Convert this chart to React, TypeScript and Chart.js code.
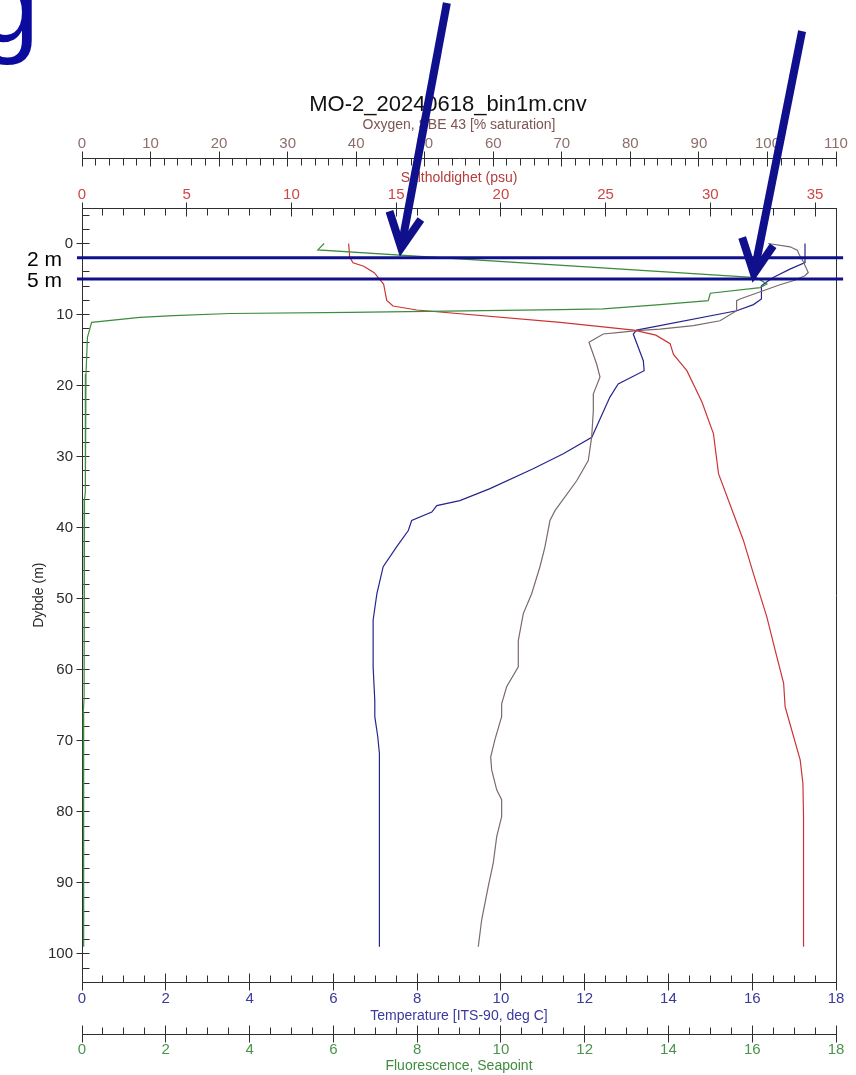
import React, { useEffect, useRef } from 'react';
import { Chart, registerables } from 'chart.js';

Chart.register(...registerables);

const FONT = "'Liberation Sans', Arial, Helvetica, sans-serif";

// ---------- axis tick labels ----------
const depthTicks = [0, 10, 20, 30, 40, 50, 60, 70, 80, 90, 100];
const oxygenTicks = [0, 10, 20, 30, 40, 50, 60, 70, 80, 90, 100, 110];
const salinityTicks = [0, 5, 10, 15, 20, 25, 30, 35];
const temperatureTicks = [0, 2, 4, 6, 8, 10, 12, 14, 16, 18];
const fluorescenceTicks = [0, 2, 4, 6, 8, 10, 12, 14, 16, 18];

// ---------- profiles (depth in m) ----------
const fluorescenceDepth = [0.0, 0.9, 4.8, 5.7, 6.2, 7.0, 8.05, 8.6, 9.2, 9.3, 9.7, 9.85, 10.15, 10.4, 11.1, 13.2, 18.4, 22.1, 35, 36, 64, 66, 99];
const fluorescenceValue = [5.78, 5.63, 16.1, 16.35, 16.19, 15.0, 14.95, 13.8, 12.44, 11.41, 6.4, 3.53, 2.18, 1.38, 0.23, 0.13, 0.095, 0.08, 0.08, 0.06, 0.05, 0.03, 0.04];

const salinityDepth = [0, 1.9, 2.7, 3.2, 4.1, 5.7, 8.0, 8.8, 9.36, 11.1, 12.2, 12.9, 14.1, 15.6, 17.9, 22.3, 26.8, 32.4, 38.0, 41.8, 46.5, 52.6, 57.3, 61.9, 65.2, 67.6, 72.7, 76.0, 80.7, 99];
const salinityValue = [12.73, 12.78, 12.94, 13.45, 13.95, 14.4, 14.55, 14.85, 15.98, 22.83, 26.35, 27.4, 28.08, 28.24, 28.88, 29.6, 30.15, 30.39, 31.1, 31.58, 32.06, 32.7, 33.1, 33.5, 33.57, 33.8, 34.29, 34.42, 34.45, 34.45];

const temperatureDepth = [0, 2.67, 3.6, 4.78, 5.6, 5.95, 7.8, 8.6, 9.46, 12.18, 12.74, 16.5, 17.9, 19.77, 21.65, 27.27, 29.6, 31.7, 34.5, 36.2, 36.9, 37.8, 39.0, 40.4, 42.7, 45.5, 49.3, 53.0, 59.6, 64.4, 66.6, 69.4, 71.8, 99];
const temperatureValue = [17.26, 17.26, 16.9, 16.5, 16.3, 16.22, 16.22, 16.03, 15.63, 13.24, 13.16, 13.4, 13.42, 12.8, 12.6, 12.17, 11.49, 10.77, 9.74, 9.02, 8.47, 8.35, 7.87, 7.79, 7.51, 7.19, 7.04, 6.95, 6.95, 6.99, 6.99, 7.06, 7.1, 7.1];

const oxygenDepth = [0, 0.46, 0.93, 1.59, 2.53, 4.08, 4.54, 5.24, 5.8, 7.8, 8.05, 9.46, 10.87, 11.57, 12.04, 12.27, 12.5, 12.74, 13.9, 16.96, 18.8, 21.2, 23.5, 27.3, 30.55, 33.4, 37.6, 39.0, 42.7, 45.5, 49.3, 52.1, 55.9, 59.6, 62.4, 64.8, 66.6, 69.8, 72.3, 74.1, 76.9, 78.3, 80.7, 83.5, 87.2, 90.5, 95.2, 99];
const oxygenValue = [100.1, 103.3, 104.35, 104.64, 105.22, 105.95, 105.47, 103.76, 101.82, 96.0, 95.5, 95.5, 93.07, 89.18, 84.32, 80.92, 78.48, 76.05, 73.96, 75.08, 75.57, 74.59, 74.6, 74.35, 73.86, 72.17, 69.0, 68.27, 67.54, 66.81, 65.6, 64.38, 63.65, 63.65, 61.95, 61.22, 61.22, 60.25, 59.62, 59.77, 60.5, 61.22, 61.22, 60.5, 60.0, 59.27, 58.31, 57.81];

// ---------- hand-drawn annotations (temperature units, depth) ----------
const markerDepths = [2, 5];
const markerLabels = ['2 m', '5 m'];
const markerSpanT = [-0.12, 18.17];
const arrowLeftShaftT = [8.71, 7.62];
const arrowLeftShaftD = [-33.85, 0.6];
const arrowLeftHeadT = [7.34, 7.62, 8.09];
const arrowLeftHeadD = [-4.54, 0.6, -3.37];
const arrowRightShaftT = [17.19, 16.04];
const arrowRightShaftD = [-29.9, 4.26];
const arrowRightHeadT = [15.76, 16.04, 16.5];
const arrowRightHeadD = [-0.84, 4.26, 0.32];

const zip = (xs: number[], ys: number[]) => xs.map((x, i) => ({ x, y: ys[i] }));

const AXIS = '#2e2e2e';
const NAVY = '#10108c';

const alignPx = (p: number) => Math.round(p - 0.5) + 0.5;

function hTicks(ctx: CanvasRenderingContext2D, scale: any, lineY: number, min: number, max: number, step: number, majorEvery: number, minUp: number, minDown: number, majUp: number, majDown: number) {
  const n = Math.round((max - min) / step);
  for (let i = 0; i <= n; i++) {
    const v = min + i * step;
    const px = alignPx(scale.getPixelForValue(v));
    const major = i % majorEvery === 0;
    ctx.moveTo(px, lineY - (major ? majUp : minUp));
    ctx.lineTo(px, lineY + (major ? majDown : minDown));
  }
}

const tickPlugin = {
  id: 'ctdTicks',
  afterLayout(chart: any) {
    // the original title sits slightly left of the plot centre
    const t = chart.titleBlock;
    if (t) {
      t.left = 60;
      t.right = chart.chartArea.right;
      t.width = t.right - t.left;
    }
  },
  beforeDatasetsDraw(chart: any) {
    const ctx: CanvasRenderingContext2D = chart.ctx;
    const { left, right, top, bottom } = chart.chartArea;
    const s = chart.scales;
    ctx.save();
    ctx.strokeStyle = AXIS;
    ctx.lineWidth = 1;
    ctx.beginPath();
    const rx = alignPx(right);
    ctx.moveTo(rx, alignPx(top));
    ctx.lineTo(rx, alignPx(bottom));
    // depth axis
    const lx = alignPx(left);
    for (let v = -4; v <= 104; v += 2) {
      const py = alignPx(s.y.getPixelForValue(v));
      const major = v % 10 === 0;
      ctx.moveTo(lx - (major ? 6 : 0), py);
      ctx.lineTo(lx + 7, py);
    }
    hTicks(ctx, s.xS, alignPx(top), 0, 36, 1, 5, 0, 7, 6, 8);
    hTicks(ctx, s.xO, alignPx(s.xO.bottom), 0, 110, 2, 5, 0, 7, 7, 8);
    hTicks(ctx, s.xT, alignPx(bottom), 0, 18, 0.5, 4, 7, 0, 9, 8);
    hTicks(ctx, s.xF, alignPx(s.xF.top), 0, 18, 0.5, 4, 7, 0, 9, 8);
    ctx.stroke();
    ctx.restore();
  },
};

function xAxis(opts: any) {
  return {
    type: 'linear',
    axis: 'x',
    position: opts.position,
    weight: opts.weight,
    min: opts.min,
    max: opts.max,
    afterFit: (sc: any) => { sc.height = opts.height; },
    afterBuildTicks: (sc: any) => { sc.ticks = opts.ticks.map((v: number) => ({ value: v })); },
    grid: { display: false, drawTicks: false },
    border: { display: true, color: AXIS, width: 1 },
    ticks: { color: opts.tickColor, font: { family: FONT, size: 15 }, padding: opts.tickPad, autoSkip: false, maxRotation: 0 },
    title: { display: true, text: opts.title, color: opts.titleColor, font: { family: FONT, size: 14 }, padding: opts.titlePad },
  };
}

export default function App() {
  const ref = useRef<HTMLCanvasElement>(null);

  useEffect(() => {
    document.body.style.margin = '0';
    const line = (label: string, data: any[], axis: string, color: string, width = 1.2, order = 1) => ({
      label, data, xAxisID: axis, yAxisID: 'y', showLine: true, borderColor: color, backgroundColor: color,
      borderWidth: width, pointRadius: 0, fill: false, tension: 0, order,
    });
    const annot = (label: string, data: any[], width: number, join: string, cap: string) => ({
      label, data, xAxisID: 'xT', yAxisID: 'y', showLine: true, borderColor: NAVY, backgroundColor: NAVY,
      borderWidth: width, pointRadius: 0, fill: false, tension: 0, clip: false, order: 0,
      borderJoinStyle: join, borderCapStyle: cap,
    });

    const datasets: any[] = [
      line('Fluorescence, Seapoint', zip(fluorescenceValue, fluorescenceDepth), 'xF', '#3d8b3d'),
      line('Saltholdighet (psu)', zip(salinityValue, salinityDepth), 'xS', '#cc3434'),
      line('Oxygen, SBE 43 [% saturation]', zip(oxygenValue, oxygenDepth), 'xO', '#7a6a6a'),
      line('Temperature [ITS-90, deg C]', zip(temperatureValue, temperatureDepth), 'xT', '#25258e'),
      ...markerDepths.map((d, i) => annot(markerLabels[i], zip(markerSpanT, [d, d]), 3, 'miter', 'butt')),
      annot('arrow 1', zip(arrowLeftShaftT, arrowLeftShaftD), 8, 'miter', 'butt'),
      annot('arrow 1 head', zip(arrowLeftHeadT, arrowLeftHeadD), 8, 'miter', 'butt'),
      annot('arrow 2', zip(arrowRightShaftT, arrowRightShaftD), 8, 'miter', 'butt'),
      annot('arrow 2 head', zip(arrowRightHeadT, arrowRightHeadD), 8, 'miter', 'butt'),
    ];

    const chart = new Chart(ref.current as HTMLCanvasElement, {
      type: 'scatter',
      data: { datasets },
      options: {
        responsive: false,
        maintainAspectRatio: false,
        devicePixelRatio: 1,
        animation: false,
        events: [],
        layout: { padding: { top: 0, left: 0, right: 20, bottom: 0 } },
        plugins: {
          legend: { display: false },
          tooltip: { enabled: false },
          title: {
            display: true,
            text: 'MO-2_20240618_bin1m.cnv',
            color: '#111111',
            fullSize: false,
            font: { family: FONT, size: 22, weight: 'normal', lineHeight: 1 },
            padding: { top: 94, bottom: 0 },
          },
        },
        scales: {
          y: {
            type: 'linear',
            axis: 'y',
            position: 'left',
            reverse: true,
            min: -5,
            max: 104,
            afterFit: (sc: any) => { sc.width = 82; },
            afterBuildTicks: (sc: any) => { sc.ticks = depthTicks.map((v) => ({ value: v })); },
            grid: { display: false, drawTicks: false },
            border: { display: true, color: AXIS, width: 1 },
            ticks: { color: '#2b2b2b', font: { family: FONT, size: 15 }, padding: 9, autoSkip: false },
            title: { display: true, text: 'Dybde (m)', color: '#2b2b2b', font: { family: FONT, size: 14 }, padding: { top: 31, bottom: 0 } },
          },
          xO: xAxis({ position: 'top', weight: 2, min: 0, max: 110, height: 42, ticks: oxygenTicks, tickColor: '#8c6e6a', tickPad: 5.5, title: 'Oxygen, SBE 43 [% saturation]', titleColor: '#7d5450', titlePad: { top: 1.1, bottom: 0 } }),
          xS: xAxis({ position: 'top', weight: 1, min: 0, max: 36, height: 50, ticks: salinityTicks, tickColor: '#cf4646', tickPad: 4, title: 'Saltholdighet (psu)', titleColor: '#b33c3c', titlePad: { top: 11.6, bottom: 0 } }),
          xT: xAxis({ position: 'bottom', weight: 1, min: 0, max: 18, height: 52, ticks: temperatureTicks, tickColor: '#3a3a9c', tickPad: 7.7, title: 'Temperature [ITS-90, deg C]', titleColor: '#3a3a9c', titlePad: { top: 0, bottom: 9.9 } }),
          xF: xAxis({ position: 'bottom', weight: 2, min: 0, max: 18, height: 40.7, ticks: fluorescenceTicks, tickColor: '#4a944a', tickPad: 6.7, title: 'Fluorescence, Seapoint', titleColor: '#3f8c3f', titlePad: { top: 0, bottom: 0.6 } }),
        },
      } as any,
      plugins: [tickPlugin],
    } as any);
    return () => chart.destroy();
  }, []);

  const labelStyle: React.CSSProperties = {
    position: 'absolute', left: 0, width: 62, textAlign: 'right', fontFamily: FONT,
    fontSize: 21, lineHeight: 1, color: '#000', whiteSpace: 'nowrap',
  };

  return (
    <div style={{ position: 'absolute', left: 0, top: 0, width: 856, height: 1075, overflow: 'hidden', background: '#ffffff' }}>
      <canvas ref={ref} width={856} height={1075} style={{ position: 'absolute', left: 0, top: 0, width: 856, height: 1075 }} />
      <div style={{ position: 'absolute', left: -23, top: -52, fontFamily: FONT, fontSize: 112, lineHeight: 1, color: '#0b0ba0' }}>g</div>
      <div style={{ ...labelStyle, top: 247.7 }}>{markerLabels[0]}</div>
      <div style={{ ...labelStyle, top: 268.7 }}>{markerLabels[1]}</div>
    </div>
  );
}
